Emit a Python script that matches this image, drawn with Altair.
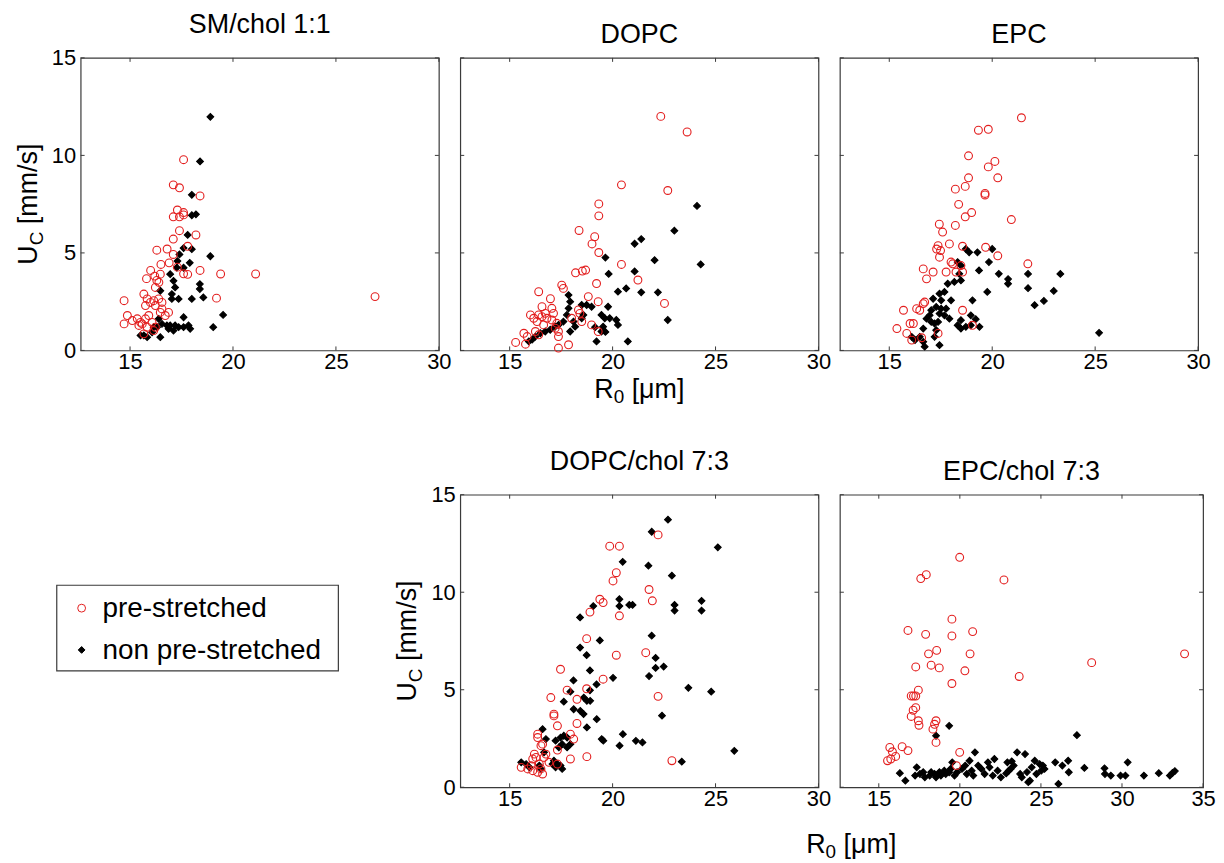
import altair as alt
import pandas as pd

# ---------------- text / categories ----------------
FONT = "Liberation Sans"
RED = "#e31e1e"
FRAME = "#3a3a3a"
TYPES = ["pre-stretched", "non pre-stretched"]
PANEL_TITLES = ["SM/chol 1:1", "DOPC", "EPC", "DOPC/chol 7:3", "EPC/chol 7:3"]
X_TICKS_30 = [15, 20, 25, 30]
X_TICKS_35 = [15, 20, 25, 30, 35]
Y_TICKS = [0, 5, 10, 15]
X_MIN = 12.6
X_TITLE = ["R", "0", "[μm]"]
Y_TITLE = ["U", "C", "[mm/s]"]

# ---------------- data (R0 [um], Uc [mm/s]) ----------------
SM_PRE = [(17.6, 9.78), (17.1, 8.49), (17.4, 8.34), (18.4, 7.92), (17.3, 7.2), (17.1, 6.85), (17.4, 6.85),
          (17.6, 6.95), (17.6, 7.07), (17.4, 6.14), (18.2, 5.92), (17.1, 5.71), (16.3, 5.14), (16.8, 5.2),
          (17.1, 4.92), (17.8, 5.34), (16.0, 4.1), (16.5, 4.41), (16.9, 4.49), (17.3, 4.27), (17.6, 3.93),
          (17.8, 3.9), (18.4, 4.1), (19.4, 3.92), (21.1, 3.92), (26.9, 2.76), (19.2, 2.68), (15.8, 3.68),
          (16.2, 3.81), (16.3, 3.59), (16.4, 3.49), (16.47, 3.91), (16.23, 3.23), (14.71, 2.55), (14.87, 1.79),
          (14.71, 1.36), (15.11, 1.53), (15.35, 1.62), (15.51, 1.44), (15.43, 1.28), (15.67, 2.89), (15.83, 2.64),
          (15.75, 2.30), (15.99, 2.46), (16.15, 2.55), (16.23, 2.30), (16.39, 2.64), (16.55, 2.46), (16.55, 2.13),
          (16.47, 1.95), (15.91, 1.79), (15.75, 1.62), (15.59, 1.36), (15.83, 1.19), (16.07, 1.44), (16.23, 1.19),
          (16.15, 1.02), (15.67, 0.85), (16.87, 1.95), (16.71, 1.79)]
SM_NON = [(18.9, 11.98), (18.4, 9.69), (18.0, 7.98), (18.0, 6.93), (18.2, 6.98), (17.8, 5.92), (17.6, 5.25),
          (18.0, 5.19), (18.9, 4.83), (17.4, 4.92), (17.3, 4.58), (17.9, 4.49), (17.6, 4.24), (18.39, 3.40),
          (18.39, 3.15), (18.0, 2.64), (18.56, 2.72), (19.52, 1.82), (19.04, 1.19), (17.6, 1.70), (16.95, 3.91),
          (17.11, 3.57), (17.19, 3.23), (17.03, 2.89), (17.27, 4.25), (16.47, 3.06), (17.03, 2.64), (17.36, 2.64),
          (16.39, 1.62), (16.55, 1.36), (16.79, 1.28), (16.95, 1.28), (17.19, 1.28), (17.36, 1.19), (17.6, 1.19),
          (17.84, 1.28), (17.92, 1.11), (16.87, 1.11), (17.11, 1.02), (15.51, 0.77), (15.67, 0.77), (15.83, 0.68),
          (16.07, 0.93), (16.47, 0.68), (16.15, 1.19), (16.31, 1.19)]

DOPC_PRE = [(22.34, 12.0), (23.62, 11.2), (20.43, 8.49), (22.68, 8.2), (19.33, 7.51), (19.33, 6.9), (18.37, 6.15),
            (19.13, 5.83), (19.0, 5.46), (19.33, 5.02), (20.43, 4.41), (18.2, 3.98), (18.53, 4.07), (18.69, 4.12),
            (21.23, 3.61), (22.52, 2.41), (16.41, 3.01), (16.57, 2.24), (16.01, 1.82), (16.17, 1.65), (16.33, 1.48),
            (16.41, 1.82), (16.57, 1.73), (16.73, 1.90), (16.81, 1.65), (16.65, 1.31), (15.69, 0.88), (15.85, 0.71),
            (15.29, 0.41), (15.77, 0.32), (16.25, 0.97), (16.41, 0.80), (17.05, 2.16), (17.13, 1.90), (17.05, 1.56),
            (17.29, 1.39), (17.21, 1.14), (17.37, 0.97), (17.37, 0.71), (17.37, 0.12), (17.86, 0.29), (17.53, 3.35),
            (17.61, 3.18), (18.01, 1.65), (18.41, 1.90), (18.5, 1.48), (18.34, 2.08), (18.82, 2.76), (19.3, 2.5),
            (18.98, 1.31), (19.3, 0.97), (19.22, 3.43), (16.98, 2.65)]
DOPC_NON = [(24.1, 7.41), (23.0, 6.14), (21.39, 5.71), (21.07, 5.47), (19.65, 4.76), (22.04, 4.63), (24.28, 4.41),
            (19.81, 3.92), (21.07, 4.05), (21.39, 2.98), (22.2, 2.98), (22.68, 1.56), (19.15, 1.19), (19.65, 0.95),
            (17.86, 2.84), (17.94, 2.5), (17.86, 2.16), (17.78, 1.82), (18.1, 1.48), (18.18, 1.22), (17.94, 0.97),
            (17.61, 1.48), (17.37, 1.31), (17.21, 1.22), (16.97, 1.06), (16.73, 0.97), (16.49, 0.88), (16.25, 0.71),
            (16.09, 0.55), (15.93, 0.46), (18.5, 2.33), (18.74, 2.33), (18.98, 2.24), (18.58, 1.82), (18.5, 1.65),
            (19.78, 2.24), (20.18, 1.56), (20.26, 1.31), (19.46, 1.82), (19.54, 1.22), (19.46, 0.97), (19.22, 0.46),
            (20.74, 0.46), (20.26, 3.01), (20.66, 3.18), (19.86, 1.65), (19.62, 1.65)]

EPC_PRE = [(21.42, 11.93), (19.33, 11.29), (19.81, 11.34), (18.85, 9.98), (20.13, 9.69), (19.81, 9.41), (20.27, 8.85),
           (18.85, 8.85), (18.69, 8.41), (18.21, 8.27), (19.65, 8.05), (19.65, 7.97), (18.37, 7.49), (19.0, 7.07),
           (18.69, 6.85), (20.93, 6.71), (17.43, 6.47), (17.59, 6.07), (18.21, 6.41), (21.73, 4.44), (20.27, 4.85),
           (17.37, 5.37), (17.92, 5.46), (18.56, 5.34), (19.68, 5.29), (17.49, 5.12), (17.3, 5.2), (17.44, 4.78),
           (18.0, 4.53), (18.08, 4.44), (18.48, 4.35), (17.76, 4.02), (18.24, 4.02), (18.56, 4.02), (16.65, 4.18),
           (17.13, 4.02), (16.81, 3.67), (15.69, 2.06), (16.33, 2.14), (16.48, 2.06), (16.65, 2.4), (16.72, 2.48),
           (15.37, 1.12), (16.01, 1.38), (16.17, 1.38), (15.85, 0.87), (16.09, 0.53), (16.57, 0.65), (18.56, 2.06),
           (19.04, 1.29), (17.37, 0.87)]
EPC_NON = [(21.74, 3.92), (23.31, 3.92), (20.77, 3.66), (20.77, 3.42), (21.74, 3.19), (22.99, 3.05), (22.51, 2.54),
           (22.06, 2.32), (25.19, 0.9), (19.38, 1.21), (19.2, 1.6), (18.72, 5.2), (18.88, 5.03), (19.28, 5.03),
           (20.0, 5.2), (19.84, 4.53), (19.36, 4.1), (20.32, 3.93), (19.76, 3.0), (18.32, 4.53), (18.48, 4.35),
           (18.4, 3.93), (18.48, 3.59), (18.16, 3.51), (17.84, 3.42), (17.68, 3.0), (17.13, 2.65), (17.44, 2.91),
           (17.52, 2.57), (18.0, 2.57), (19.04, 2.57), (17.76, 2.14), (17.52, 2.14), (17.28, 2.23), (17.04, 2.06),
           (16.96, 1.8), (17.44, 1.89), (17.68, 1.8), (17.92, 1.63), (17.37, 1.46), (17.2, 1.38), (17.04, 1.46),
           (16.81, 1.63), (16.65, 1.12), (17.28, 1.04), (17.2, 0.7), (18.48, 1.55), (18.48, 1.12), (18.72, 1.21),
           (18.96, 1.8), (18.96, 1.29), (18.32, 1.29), (16.48, 0.7), (16.65, 0.44), (16.09, 0.7), (16.72, 0.19),
           (17.44, 0.27), (16.25, 0.53)]

DOPCC_PRE = [(22.21, 12.94), (19.86, 12.36), (20.33, 12.36), (20.18, 11.0), (20.02, 10.58), (21.77, 10.14),
             (21.93, 9.56), (19.38, 9.64), (19.54, 9.47), (18.9, 8.98), (20.33, 8.79), (18.74, 7.62), (21.61, 6.9),
             (20.18, 6.77), (17.47, 6.05), (19.54, 5.54), (17.79, 4.98), (18.74, 5.05), (22.21, 4.66), (22.88, 1.36),
             (17.0, 4.6), (18.27, 4.51), (17.15, 3.75), (17.15, 3.66), (17.32, 3.15), (18.27, 3.27), (16.36, 2.72),
             (16.36, 2.55), (16.52, 2.13), (16.6, 2.21), (17.95, 2.72), (18.11, 2.47), (16.76, 1.7), (16.67, 1.53),
             (17.32, 1.91), (16.91, 1.28), (16.28, 1.53), (16.2, 1.7), (16.12, 1.45), (16.04, 1.11), (15.56, 1.02),
             (15.88, 0.94), (16.12, 0.85), (16.36, 0.77), (16.52, 0.94), (16.44, 1.19), (16.6, 0.68), (17.32, 1.19),
             (17.95, 1.45), (18.75, 1.57)]
DOPCC_NON = [(22.69, 13.72), (21.9, 13.1), (25.11, 12.3), (20.49, 11.56), (21.74, 11.36), (22.88, 10.85),
             (20.33, 9.64), (20.33, 9.29), (20.81, 9.35), (20.97, 9.35), (19.06, 9.29), (23.01, 9.35), (23.01, 9.06),
             (24.32, 9.56), (24.32, 9.06), (18.42, 8.71), (21.9, 7.77), (19.38, 7.53), (18.42, 7.16), (18.74, 6.77),
             (22.09, 6.63), (22.48, 6.19), (22.09, 6.12), (18.9, 5.99), (21.77, 5.7), (20.02, 5.61), (18.1, 5.48),
             (19.22, 5.27), (23.68, 5.1), (24.79, 4.9), (17.95, 4.9), (18.9, 4.97), (18.6, 4.6), (22.4, 3.67),
             (21.13, 2.38), (21.45, 2.3), (25.91, 1.87), (23.36, 1.31), (17.63, 4.39), (18.11, 4.0), (18.43, 3.92),
             (18.59, 3.75), (18.75, 4.43), (18.91, 4.43), (19.23, 3.49), (18.75, 3.07), (19.47, 2.47), (19.55, 2.39),
             (20.34, 2.13), (20.5, 2.72), (16.6, 2.98), (16.76, 2.47), (16.67, 1.79), (17.23, 2.39), (17.47, 2.55),
             (17.63, 2.64), (17.79, 2.55), (17.95, 2.21), (17.79, 2.04), (17.55, 2.21), (17.39, 2.04), (17.15, 1.36),
             (17.32, 1.19), (17.23, 1.02), (17.47, 1.11), (17.55, 0.94), (17.08, 1.19), (15.56, 1.28), (15.8, 1.19),
             (15.96, 1.02), (16.44, 1.11), (16.52, 0.94)]

EPCC_PRE = [(19.99, 11.79), (17.59, 10.7), (17.93, 10.9), (22.72, 10.63), (19.51, 8.62), (16.8, 8.04), (17.89, 7.84),
            (19.51, 7.76), (20.79, 7.98), (18.07, 6.84), (18.57, 7.02), (20.63, 6.84), (18.23, 6.26), (18.73, 6.12),
            (17.28, 6.17), (20.31, 5.97), (28.13, 6.39), (33.86, 6.84), (23.66, 5.68), (19.51, 5.32), (17.44, 4.98),
            (17.0, 4.68), (17.14, 4.68), (17.28, 4.68), (17.28, 4.08), (17.12, 3.95), (17.0, 3.63), (17.44, 3.41),
            (17.48, 3.18), (18.53, 3.41), (18.44, 3.23), (18.34, 2.98), (18.53, 2.3), (15.68, 2.04), (15.84, 1.82),
            (16.04, 1.58), (15.54, 1.36), (15.74, 1.45), (16.44, 2.08), (16.8, 1.88), (19.99, 1.79), (19.79, 1.11)]
EPCC_NON = [(19.34, 3.15), (18.53, 2.64), (27.22, 2.67), (16.3, 0.72), (16.64, 0.34), (17.34, 1.02), (17.24, 0.6),
            (17.54, 0.68), (17.74, 0.77), (17.84, 0.51), (18.14, 0.6), (18.23, 0.77), (18.44, 0.68), (18.53, 0.51),
            (18.74, 0.77), (18.83, 0.6), (19.04, 0.85), (19.13, 0.68), (19.34, 0.77), (19.43, 0.94), (19.53, 1.28),
            (19.67, 0.6), (19.83, 0.77), (20.13, 0.94), (20.33, 1.11), (20.43, 0.68), (20.73, 0.85), (20.83, 0.6),
            (20.93, 1.79), (21.13, 1.11), (21.33, 0.94), (21.53, 0.68), (21.73, 1.28), (21.83, 1.02), (22.03, 0.6),
            (22.13, 1.45), (22.33, 0.85), (22.53, 0.51), (22.93, 1.28), (23.13, 0.94), (23.32, 1.11), (23.53, 1.79),
            (23.72, 0.68), (24.02, 1.7), (24.22, 0.26), (24.43, 1.02), (20.6, 1.36), (23.2, 1.33), (22.86, 0.71),
            (23.02, 0.85), (23.82, 0.51), (24.14, 0.78), (24.62, 1.36), (24.92, 1.19), (25.12, 1.11), (25.22, 0.94),
            (24.72, 0.68), (24.32, 0.34), (25.02, 0.85), (25.88, 1.28), (26.32, 1.11), (26.68, 1.36), (26.72, 0.77),
            (26.08, 0.17), (27.68, 0.99), (28.92, 0.97), (28.95, 0.68), (29.31, 0.6), (29.91, 0.6), (30.21, 0.6),
            (30.35, 1.28), (31.35, 0.6), (32.27, 0.72), (32.95, 0.6), (33.11, 0.73), (33.26, 0.83)]

# ---------------- layout / style ----------------
W = 360
W4 = 360
W5 = 365
H = 294
SPACER_W = 354
COL_GAP = 21.5
ROW_GAP = 145
TICK_LEN = 4
TITLE_FS = 27
TICK_FS = 22
AX_FS = 27
SUB_FS = 19
LEG_FS = 28
# legend box (pixels inside the empty lower-left cell)
LEG_BOX = (-24, 259, 91, 177)
LEG_ROWS = [114, 156]
LEG_SYMBOL_X = 1
LEG_LABEL_X = 22

SHAPE_SCALE = alt.Scale(domain=TYPES, range=["circle", "diamond"])
STROKE_SCALE = alt.Scale(domain=TYPES, range=[RED, "black"])
FILL_SCALE = alt.Scale(domain=TYPES, range=["transparent", "black"])


def pts_df(pre, non):
    rows = [{"R0": x, "Uc": y, "type": TYPES[1]} for x, y in non]
    rows += [{"R0": x, "Uc": y, "type": TYPES[0]} for x, y in pre]
    return pd.DataFrame(rows)


def text_layer(s, fs, x, y, align="left", angle=0):
    return alt.Chart(pd.DataFrame({"s": [s]})).mark_text(
        fontSize=fs, font=FONT, align=align, baseline="alphabetic", angle=angle, color="black"
    ).encode(text="s:N", x=alt.value(x), y=alt.value(y))


def x_title_layers(cx, yb):
    w_r = 0.722 * AX_FS
    w_0 = 0.556 * SUB_FS
    gap = 0.278 * AX_FS
    w_rest = 1.965 * AX_FS
    start = cx - (w_r + w_0 + gap + w_rest) / 2
    return [
        text_layer(X_TITLE[0], AX_FS, start + w_r, yb, align="right"),
        text_layer(X_TITLE[1], SUB_FS, start + w_r, yb + 5),
        text_layer(X_TITLE[2], AX_FS, start + w_r + w_0 + gap, yb),
    ]


def y_title_layers(xb, cy):
    w_u = 0.722 * AX_FS
    w_c = 0.722 * SUB_FS
    gap = 0.278 * AX_FS
    w_rest = 3.0 * AX_FS
    bottom = cy + (w_u + w_c + gap + w_rest) / 2
    ya = bottom - w_u
    return [
        text_layer(Y_TITLE[0], AX_FS, xb, ya, align="right", angle=270),
        text_layer(Y_TITLE[1], SUB_FS, xb + 6, ya, angle=270),
        text_layer(Y_TITLE[2], AX_FS, xb, ya - w_c - gap, angle=270),
    ]


def panel(title, pre, non, xmax, xticks, width, show_y, extra=()):
    xs = alt.Scale(domain=[X_MIN, xmax], nice=False, zero=False)
    ys = alt.Scale(domain=[0, 15], nice=False, zero=False)
    xax = alt.Axis(values=xticks, title=None, grid=False, ticks=False, domain=False, labelFlush=False,
                   labelFontSize=TICK_FS, labelFont=FONT, labelColor="black", labelPadding=1, format="d")
    yax = alt.Axis(values=Y_TICKS, title=None, grid=False, ticks=False, domain=False, labels=show_y,
                   labelFontSize=TICK_FS, labelFont=FONT, labelColor="black", labelPadding=5, format="d")

    def X():
        return alt.X("R0:Q", scale=xs, axis=xax)

    def Y():
        return alt.Y("Uc:Q", scale=ys, axis=yax)

    points = alt.Chart(pts_df(pre, non)).mark_point(opacity=1, strokeWidth=1.1).encode(
        x=X(), y=Y(),
        shape=alt.Shape("type:N", scale=SHAPE_SCALE, legend=None),
        stroke=alt.Stroke("type:N", scale=STROKE_SCALE, legend=None),
        fill=alt.Fill("type:N", scale=FILL_SCALE, legend=None),
        size=alt.Size("type:N", scale=alt.Scale(domain=TYPES, range=[62, 46]), legend=None),
    )
    xt = pd.DataFrame({"R0": xticks})
    yt = pd.DataFrame({"Uc": Y_TICKS})
    rule = dict(color=FRAME, strokeWidth=1)
    top_t = alt.Chart(xt).mark_rule(**rule).encode(x=X(), y=alt.value(0), y2=alt.value(TICK_LEN))
    bot_t = alt.Chart(xt).mark_rule(**rule).encode(x=X(), y=alt.value(H - TICK_LEN), y2=alt.value(H))
    left_t = alt.Chart(yt).mark_rule(**rule).encode(y=Y(), x=alt.value(0), x2=alt.value(TICK_LEN))
    right_t = alt.Chart(yt).mark_rule(**rule).encode(y=Y(), x=alt.value(width - TICK_LEN), x2=alt.value(width))
    layers = [top_t, bot_t, left_t, right_t, points] + list(extra)
    return alt.layer(*layers).properties(
        width=width, height=H,
        title=alt.TitleParams(title, fontSize=TITLE_FS, font=FONT, fontWeight="normal", color="black",
                              offset=8, frame="group"),
    )


def legend_cell():
    leg = pd.DataFrame({"type": TYPES})
    ypos = alt.Y("type:N", scale=alt.Scale(domain=TYPES, range=LEG_ROWS, padding=0), axis=None)
    x0, x1, y0, y1 = LEG_BOX
    box = alt.Chart(pd.DataFrame({"b": [0]})).mark_rect(
        fillOpacity=0, stroke=FRAME, strokeWidth=1.2
    ).encode(x=alt.value(x0), x2=alt.value(x1), y=alt.value(y0), y2=alt.value(y1))
    symbols = alt.Chart(leg).mark_point(opacity=1, strokeWidth=1).encode(
        x=alt.value(LEG_SYMBOL_X), y=ypos,
        shape=alt.Shape("type:N", scale=SHAPE_SCALE, legend=None),
        stroke=alt.Stroke("type:N", scale=STROKE_SCALE, legend=None),
        fill=alt.Fill("type:N", scale=FILL_SCALE, legend=None),
        size=alt.Size("type:N", scale=alt.Scale(domain=TYPES, range=[40, 30]), legend=None),
    )
    labels = alt.Chart(leg).mark_text(
        fontSize=LEG_FS, font=FONT, align="left", baseline="middle", color="black", dy=1
    ).encode(x=alt.value(LEG_LABEL_X), y=ypos, text="type:N")
    return alt.layer(box, symbols, labels).properties(
        width=SPACER_W, height=H, view=alt.ViewBackground(stroke="transparent")
    )


p1 = panel(PANEL_TITLES[0], SM_PRE, SM_NON, 30, X_TICKS_30, W, True, extra=y_title_layers(-44, H / 2))
p2 = panel(PANEL_TITLES[1], DOPC_PRE, DOPC_NON, 30, X_TICKS_30, W, False, extra=x_title_layers(W / 2, H + 48))
p3 = panel(PANEL_TITLES[2], EPC_PRE, EPC_NON, 30, X_TICKS_30, W, False)
p4 = panel(PANEL_TITLES[3], DOPCC_PRE, DOPCC_NON, 30, X_TICKS_30, W4, True,
           extra=y_title_layers(-44, H / 2) + x_title_layers(393, H + 66))
p5 = panel(PANEL_TITLES[4], EPCC_PRE, EPCC_NON, 35, X_TICKS_35, W5, False)

chart = alt.concat(
    p1, p2, p3, legend_cell(), p4, p5,
    columns=3, spacing={"row": ROW_GAP, "column": COL_GAP}, bounds="flush", align="none",
).properties(
    padding={"left": 6, "top": 0, "right": 0, "bottom": 0}
).configure(font=FONT).configure_view(stroke=FRAME, strokeWidth=1.2)

chart.save("out.html", embed_options={"renderer": "svg", "actions": False})
